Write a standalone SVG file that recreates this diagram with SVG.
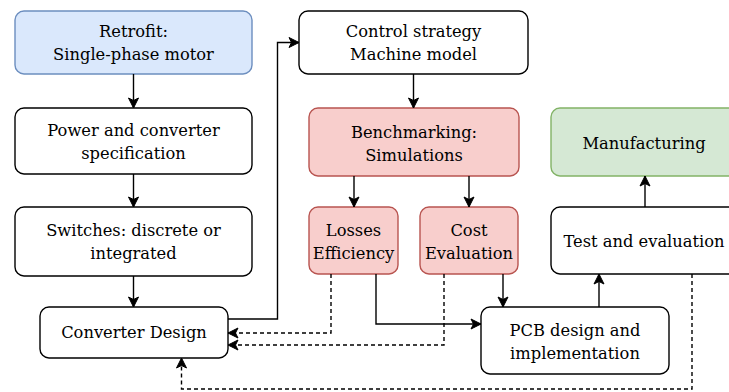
<svg xmlns="http://www.w3.org/2000/svg" width="729" height="392" viewBox="0 0 729 392">
<defs>
<marker id="ah" markerUnits="userSpaceOnUse" markerWidth="12" markerHeight="12" viewBox="0 0 12 12" refX="11" refY="6" orient="auto">
<path d="M1,1 L11,6 L1,11 L3.5,6 Z" fill="#000" stroke="#000" stroke-width="1" stroke-linejoin="miter"/>
</marker>
<style>
.n rect{stroke:#000;stroke-width:1.4;fill:#fff}
.blue rect{fill:#dae8fc;stroke:#6c8ebf}
.red rect{fill:#f8cecc;stroke:#b85450}
.green rect{fill:#d5e8d4;stroke:#82b366}
text{font-size:16.3px;fill:#000;text-anchor:middle}
.c path{fill:none;stroke:#000;stroke-width:1.4;marker-end:url(#ah)}
.c path.d{stroke-dasharray:4 3}
</style>
</defs>
<g font-family="DejaVu Serif, serif">
<g id="retrofit" class="n blue"><rect x="15" y="11" width="237" height="63" rx="9"/><text x="133.5" y="37">Retrofit:</text><text x="133.5" y="60">Single-phase motor</text></g>
<g id="power" class="n"><rect x="15" y="108" width="237" height="66" rx="9"/><text x="133.5" y="136">Power and converter</text><text x="133.5" y="159">specification</text></g>
<g id="switches" class="n"><rect x="15" y="207" width="237" height="69" rx="9"/><text x="133.5" y="236">Switches: discrete or</text><text x="133.5" y="259">integrated</text></g>
<g id="converter" class="n"><rect x="40" y="307" width="188" height="51" rx="9"/><text x="134" y="338">Converter Design</text></g>
<g id="control" class="n"><rect x="299" y="11" width="229" height="63" rx="9"/><text x="413.5" y="37">Control strategy</text><text x="413.5" y="60">Machine model</text></g>
<g id="bench" class="n red"><rect x="309" y="108" width="210" height="68" rx="9"/><text x="414" y="138">Benchmarking:</text><text x="414" y="161">Simulations</text></g>
<g id="losses" class="n red"><rect x="309" y="207" width="89" height="67" rx="9"/><text x="353.5" y="236">Losses</text><text x="353.5" y="259">Efficiency</text></g>
<g id="cost" class="n red"><rect x="420" y="207" width="98" height="67" rx="9"/><text x="469" y="236">Cost</text><text x="469" y="259">Evaluation</text></g>
<g id="pcb" class="n"><rect x="481" y="307" width="188" height="67" rx="9"/><text x="575" y="336">PCB design and</text><text x="575" y="359">implementation</text></g>
<g id="test" class="n"><rect x="551" y="207" width="190" height="67" rx="9"/><text x="644" y="247">Test and evaluation</text></g>
<g id="manuf" class="n green"><rect x="551" y="108" width="190" height="68" rx="9"/><text x="644" y="149">Manufacturing</text></g>
</g>
<g id="connectors" class="c">
<path d="M133.5,74 V108"/>
<path d="M133.5,174 V207"/>
<path d="M133.5,276 V307"/>
<path d="M228,319 H277.5 V42.5 H299"/>
<path d="M413.5,74 V108"/>
<path d="M354,176 V207"/>
<path d="M469,176 V207"/>
<path d="M376,274 V324 H481"/>
<path d="M503,274 V307"/>
<path d="M599,307 V274"/>
<path d="M645,207 V176"/>
<path class="d" d="M331,274 V333 H228"/>
<path class="d" d="M444,274 V345 H228"/>
<path class="d" d="M692,274 V389 H181.5 V358"/>
</g>
</svg>
